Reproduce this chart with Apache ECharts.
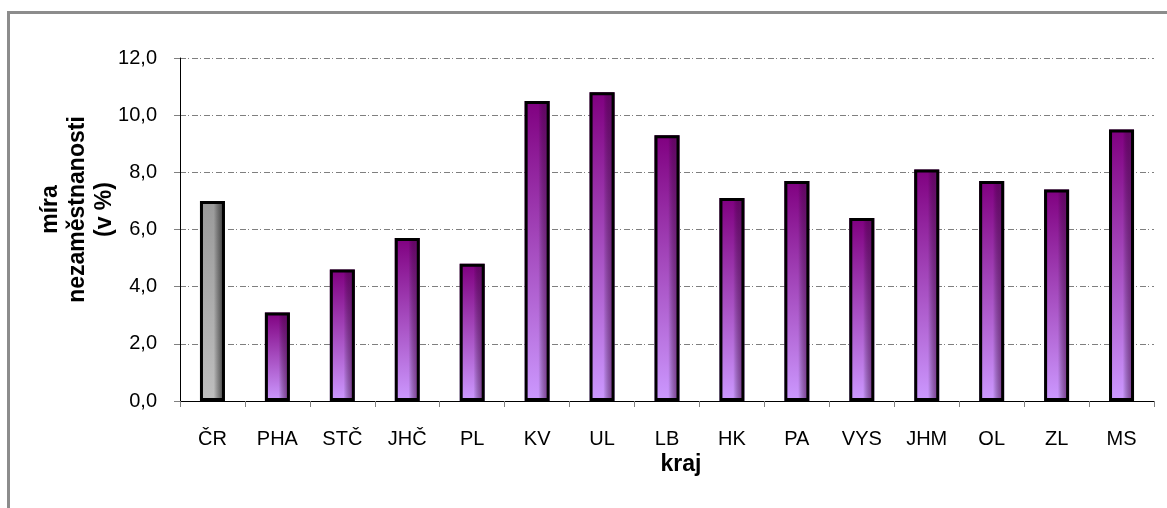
<!DOCTYPE html>
<html>
<head>
<meta charset="utf-8">
<script src="https://cdn.jsdelivr.net/npm/echarts@6/dist/echarts.min.js"></script>
<style>
  html, body { margin: 0; padding: 0; background: #fff; }
  #wrap { position: relative; width: 1167px; height: 508px; overflow: hidden; }
  /* šedý rámeček jako v Excelu, vidět je jen horní a levá hrana */
  #frame {
    position: absolute; left: 7px; top: 11px; width: 1200px; height: 600px;
    border-top: 3px solid #8c8c8c; border-left: 3px solid #8c8c8c;
  }
  #chart { position: absolute; left: 0; top: 0; width: 1167px; height: 508px; }
</style>
</head>
<body>
<div id="wrap">
  <div id="frame"></div>
  <div id="chart"></div>
</div>
<script>
  // kraje a míra nezaměstnanosti (v %)
  const regions = ['ČR', 'PHA', 'STČ', 'JHČ', 'PL', 'KV', 'UL', 'LB', 'HK', 'PA', 'VYS', 'JHM', 'OL', 'ZL', 'MS'];
  const rates = [7.0, 3.1, 4.6, 5.7, 4.8, 10.5, 10.8, 9.3, 7.1, 7.7, 6.4, 8.1, 7.7, 7.4, 9.5];
  const yTicks = { min: 0, max: 12, step: 2 };

  const font = 'Arial, "Liberation Sans", sans-serif';

  function vGrad(top, bottom) {
    return new echarts.graphic.LinearGradient(0, 0, 0, 1, [
      { offset: 0, color: top },
      { offset: 1, color: bottom },
    ]);
  }
  function hGrad(dark) {
    return new echarts.graphic.LinearGradient(0, 0, 1, 0, [
      { offset: 0, color: 'rgba(0,0,0,0)' },
      { offset: 0.55, color: 'rgba(0,0,0,0)' },
      { offset: 1, color: dark },
    ]);
  }

  // spodní vrstva: svislý přechod, ČR šedě
  const baseData = rates.map((v, i) => ({
    value: v,
    itemStyle: {
      color: regions[i] === 'ČR' ? vGrad('#9a9a9a', '#bebebe') : vGrad('#800080', '#cc99ff'),
    },
  }));
  // horní vrstva: tmavnutí doprava + černý okraj
  const topData = rates.map((v, i) => ({
    value: v,
    itemStyle: {
      color: regions[i] === 'ČR' ? hGrad('rgba(30,30,30,0.8)') : hGrad('rgba(110,20,115,0.8)'),
    },
  }));

  const chart = echarts.init(document.getElementById('chart'));

  chart.setOption({
    animation: false,
    grid: { left: 180, right: 13, top: 58, bottom: 107, containLabel: false },
    xAxis: {
      type: 'category',
      data: regions,
      name: 'kraj',
      nameLocation: 'middle',
      nameGap: 52,
      nameMoveOverlap: false,
      nameTextStyle: { fontFamily: font, fontSize: 23, fontWeight: 'bold', color: '#000', padding: [0, 0, 0, 28] },
      axisLine: { lineStyle: { color: '#000', width: 1 } },
      axisTick: { show: true, alignWithLabel: false, length: 6, lineStyle: { color: '#808080' } },
      axisLabel: { fontFamily: font, fontSize: 20, color: '#000', margin: 28 },
    },
    yAxis: {
      type: 'value',
      min: yTicks.min,
      max: yTicks.max,
      interval: yTicks.step,
      name: 'míra\nnezaměstnanosti\n(v %)',
      nameLocation: 'middle',
      nameGap: 62,
      nameMoveOverlap: false,
      nameTextStyle: {
        fontFamily: font, fontSize: 23, fontWeight: 'bold', color: '#000',
        lineHeight: 27, align: 'center', padding: [0, 0, 0, 40],
      },
      axisLine: { show: true, lineStyle: { color: '#000', width: 1 } },
      axisTick: { show: true, length: 6, lineStyle: { color: '#808080' } },
      axisLabel: {
        fontFamily: font, fontSize: 20, color: '#000', margin: 23,
        formatter: (v) => v.toFixed(1).replace('.', ','),
      },
      splitLine: { show: true, lineStyle: { color: '#7f7f7f', width: 1, type: [6, 2, 1, 3] } },
    },
    series: [
      {
        type: 'bar',
        data: baseData,
        barWidth: 25,
        barGap: '-100%',
        z: 2,
      },
      {
        type: 'bar',
        data: topData,
        barWidth: 25,
        barGap: '-100%',
        itemStyle: { borderColor: '#000', borderWidth: 3 },
        z: 3,
      },
    ],
  });
</script>
</body>
</html>
